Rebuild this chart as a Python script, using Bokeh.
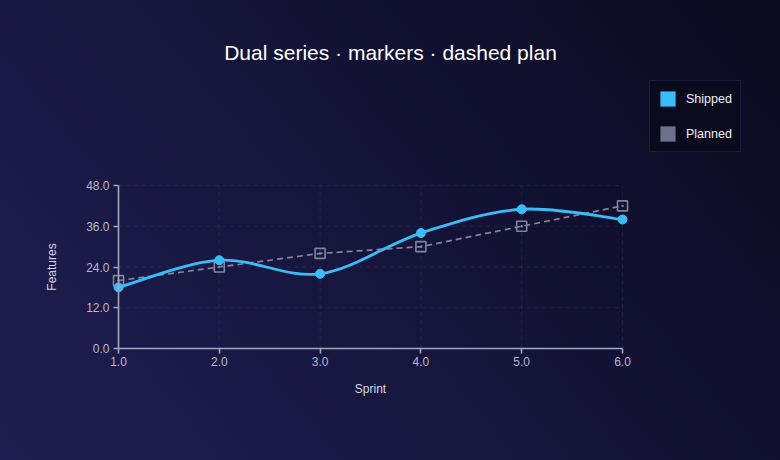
import numpy as np
from bokeh.plotting import figure
from bokeh.models import (Legend, LegendItem, Label, FixedTicker, NumeralTickFormatter,
                          Range1d, GlobalInlineStyleSheet, ColumnDataSource)
from bokeh.embed import file_html
from bokeh.resources import INLINE

# ---- data ----
sprints = [1, 2, 3, 4, 5, 6]
shipped = [18, 26, 22, 34, 41, 38]
planned = [20, 24, 28, 30, 36, 42]
x_ticks = [1, 2, 3, 4, 5, 6]
y_ticks = [0, 12, 24, 36, 48]
series_names = ["Shipped", "Planned"]
title_text = "Dual series \u00b7 markers \u00b7 dashed plan"
x_label = "Sprint"
y_label = "Features"

# ---- styles / layout ----
SHIP = "#38bdf8"
PLAN = "#80849c"
PLAN_LEG = "#6c7389"
AXIS = "#a3a8c0"
TICK_TXT = "#b4b8cc"
FONT = "Liberation Sans"

W, H = 780, 460
# pixel box of the plotting area on the page
PX_L, PX_R, PX_T, PX_B = 118, 622, 185, 348
x0d, x1d = x_ticks[0], x_ticks[-1]
y0d, y1d = y_ticks[0], y_ticks[-1]
sx = (PX_R - PX_L) / (x1d - x0d)
sy = (PX_B - PX_T) / (y1d - y0d)
x_range = Range1d(x0d - PX_L / sx, x1d + (W - PX_R) / sx)
y_range = Range1d(y0d - (H - PX_B) / sy, y1d + PX_T / sy)

p = figure(width=W, height=H, output_backend="svg", toolbar_location=None,
           x_range=x_range, y_range=y_range,
           min_border_left=0, min_border_right=0, min_border_top=0, min_border_bottom=0)
p.background_fill_alpha = 0
p.border_fill_alpha = 0
p.outline_line_color = None
p.grid.visible = False
p.stylesheets = [GlobalInlineStyleSheet(css=(
    "html,body{margin:0;padding:0;overflow:hidden;height:100%;}"
    "body{background:linear-gradient(50deg,#201e52 0%,#141337 55%,#0a0a1c 100%);}"))]

# axes, drawn at the data origin inside the frame
for ax in (p.xaxis[0], p.yaxis[0]):
    ax.axis_line_color = AXIS
    ax.axis_line_width = 1.6
    ax.major_tick_line_color = AXIS
    ax.major_tick_line_width = 1.6
    ax.major_tick_out = 5
    ax.major_tick_in = 0
    ax.minor_tick_line_color = None
    ax.major_label_text_color = TICK_TXT
    ax.major_label_text_font = FONT
    ax.major_label_text_font_size = "12px"
    ax.axis_label_text_color = "#d4d6e4"
    ax.axis_label_text_font = FONT
    ax.axis_label_text_font_size = "12px"
    ax.axis_label_text_font_style = "normal"
    ax.formatter = NumeralTickFormatter(format="0.0")

p.xaxis[0].ticker = FixedTicker(ticks=x_ticks)
p.yaxis[0].ticker = FixedTicker(ticks=y_ticks)
p.xaxis[0].bounds = (x0d, x1d)
p.yaxis[0].bounds = (y0d, y1d)
p.xaxis[0].fixed_location = y0d
p.yaxis[0].fixed_location = x0d
p.xaxis[0].major_label_standoff = 3
p.yaxis[0].major_label_standoff = 4
p.xaxis[0].axis_label = x_label
p.yaxis[0].axis_label = y_label
p.xaxis[0].axis_label_standoff = 13
p.yaxis[0].axis_label_standoff = 24

# dashed grid at the tick positions, limited to the plotting area
p.segment(x0=x_ticks, y0=[y0d] * len(x_ticks), x1=x_ticks, y1=[y1d] * len(x_ticks),
          line_color="#ffffff", line_alpha=0.07, line_dash="4 4", line_width=1, level="underlay")
p.segment(x0=[x0d] * len(y_ticks), y0=y_ticks, x1=[x1d] * len(y_ticks), y1=y_ticks,
          line_color="#ffffff", line_alpha=0.07, line_dash="4 4", line_width=1, level="underlay")

# planned dashed line + markers
p.line(sprints, planned, line_color=PLAN, line_width=1.7, line_dash="6 4")
p.scatter(sprints, planned, marker="square_dot", size=10, line_color=PLAN, line_width=1.6,
          fill_alpha=0)

# shipped smooth curve (Catmull-Rom through the data points, drawn as bezier segments)
xs = np.array(sprints, dtype=float)
ys = np.array(shipped, dtype=float)
n = len(xs)
idx = np.arange(n - 1)
prev_i = np.maximum(idx - 1, 0)
next2_i = np.minimum(idx + 2, n - 1)
seg = ColumnDataSource(dict(
    x0=xs[idx], y0=ys[idx], x1=xs[idx + 1], y1=ys[idx + 1],
    cx0=xs[idx] + (xs[idx + 1] - xs[prev_i]) / 6, cy0=ys[idx] + (ys[idx + 1] - ys[prev_i]) / 6,
    cx1=xs[idx + 1] - (xs[next2_i] - xs[idx]) / 6, cy1=ys[idx + 1] - (ys[next2_i] - ys[idx]) / 6,
))
p.bezier(x0="x0", y0="y0", x1="x1", y1="y1", cx0="cx0", cy0="cy0", cx1="cx1", cy1="cy1",
         source=seg, line_color=SHIP, line_width=2.8, line_cap="round")
p.scatter(sprints, shipped, marker="circle", size=9, fill_color=SHIP, line_color=SHIP)

# legend with square swatches (zero-size rects used only as legend glyphs)
r_ship = p.rect(x=[sprints[0]], y=[shipped[0]], width=0, height=0,
                fill_color=SHIP, line_color=None)
r_plan = p.rect(x=[sprints[0]], y=[planned[0]], width=0, height=0,
                fill_color=PLAN_LEG, line_color=None)
legend = Legend(items=[LegendItem(label=series_names[0], renderers=[r_ship]),
                       LegendItem(label=series_names[1], renderers=[r_plan])],
                location=(649, H - 152), orientation="vertical",
                glyph_width=19, glyph_height=19, label_height=19, label_standoff=9,
                spacing=16, padding=8, margin=0,
                label_text_font=FONT, label_text_font_size="12.5px", label_text_color="#eceef6",
                background_fill_color="#0a0a1d", background_fill_alpha=0.9,
                border_line_color="#2d2c5e", border_line_width=1)
p.add_layout(legend, "center")

# title
p.add_layout(Label(x=390, y=H - 52, x_units="screen", y_units="screen", text=title_text,
                   text_align="center", text_baseline="middle", text_color="#ffffff",
                   text_font=FONT, text_font_size="21px"))

open("out.html", "w").write(file_html(p, INLINE))
